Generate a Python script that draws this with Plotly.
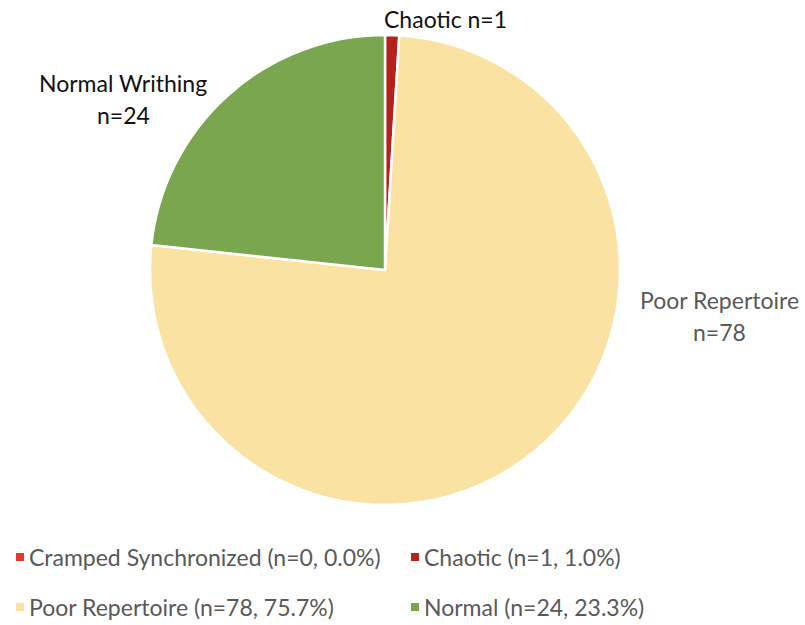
import plotly.graph_objects as go

categories = ["Cramped Synchronized", "Chaotic", "Poor Repertoire", "Normal"]
values = [0, 1, 78, 24]
colors = ["#e5372a", "#b5221c", "#fae2a2", "#79a64e"]
slice_labels = [None, ["Chaotic n=1"], ["Poor Repertoire", "n=78"], ["Normal Writhing", "n=24"]]

W, H = 805, 625
total = sum(values)

fig = go.Figure()
fig.add_trace(go.Pie(
    labels=categories, values=values, sort=False, direction="clockwise", rotation=0,
    marker=dict(colors=colors, line=dict(color="white", width=2.5)),
    textinfo="none", hoverinfo="label+value+percent", showlegend=False,
    domain=dict(x=[150 / W, 620 / W], y=[(H - 505) / H, (H - 35) / H]),
))

FONT = "Lato"
FS = 23
ann = []
# slice labels (positions in px)
label_pos = {1: [(445, 19)], 2: [(719, 300), (719, 332)], 3: [(123, 83), (123, 115)]}
label_col = {1: "#111111", 2: "#595959", 3: "#111111"}
for i, lines in enumerate(slice_labels):
    if not lines:
        continue
    for txt, (px, py) in zip(lines, label_pos[i]):
        ann.append(dict(x=px / W, y=1 - py / H, xref="paper", yref="paper", text=txt,
                        showarrow=False, xanchor="center", yanchor="middle",
                        font=dict(family=FONT, size=FS, color=label_col[i])))

# legend
shapes = []
leg_pos = [(20, 557), (415, 557), (20, 607), (415, 607)]
for cat, v, c, (px, py) in zip(categories, values, colors, leg_pos):
    shapes.append(dict(type="rect", xref="paper", yref="paper",
                       x0=(px - 4) / W, x1=(px + 4) / W, y0=1 - (py + 4) / H, y1=1 - (py - 4) / H,
                       fillcolor=c, line=dict(width=0)))
    ann.append(dict(x=(px + 7) / W, y=1 - py / H, xref="paper", yref="paper",
                    text=f"{cat} (n={v}, {100 * v / total:.1f}%)", showarrow=False,
                    xanchor="left", yanchor="middle",
                    font=dict(family=FONT, size=FS, color="#595959")))

fig.update_layout(width=W, height=H, margin=dict(l=0, r=0, t=0, b=0),
                  paper_bgcolor="white", plot_bgcolor="white",
                  annotations=ann, shapes=shapes)
fig.write_html("out.html")
